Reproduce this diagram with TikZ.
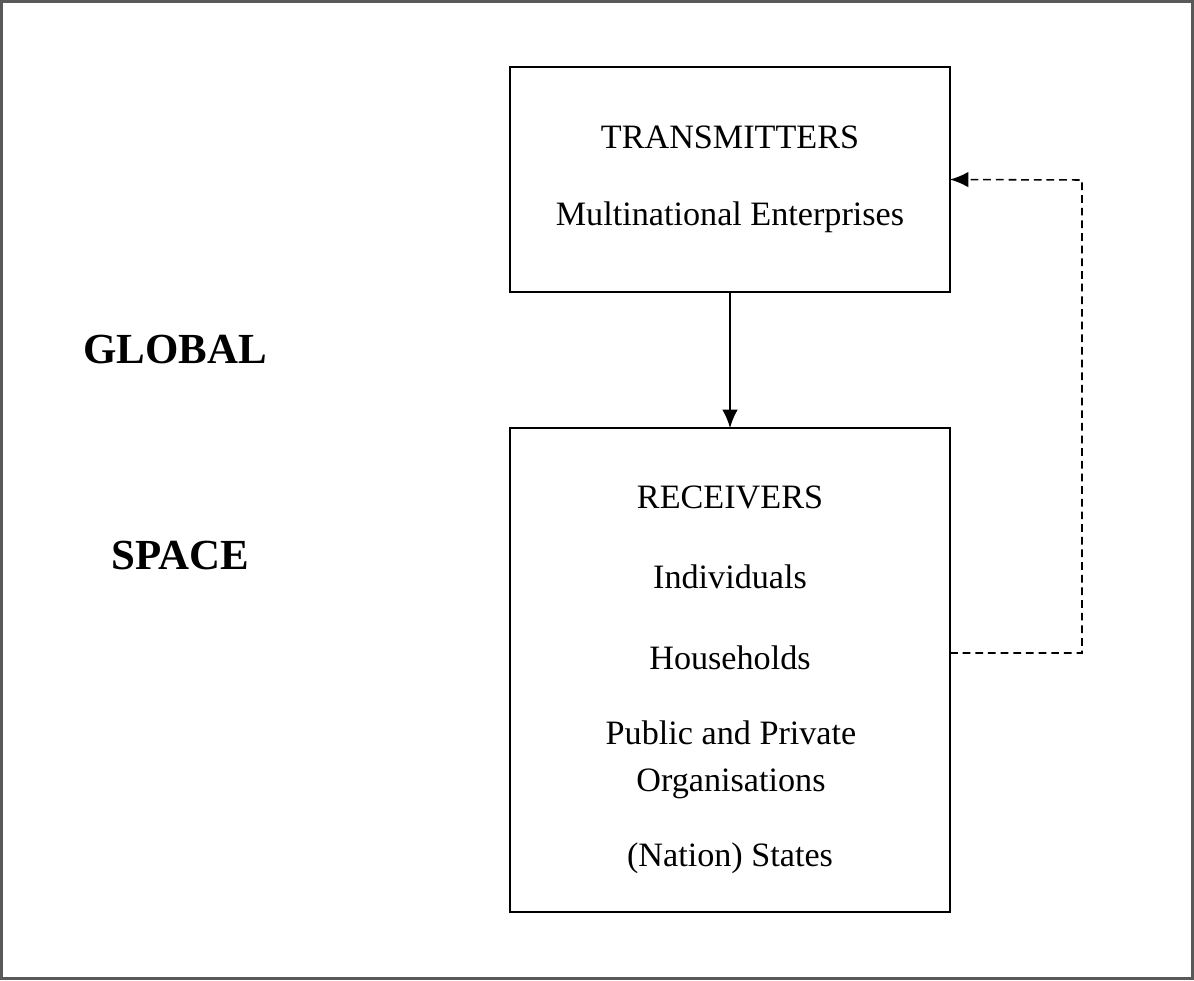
\documentclass[tikz,border=0pt]{standalone}
\usepackage{fontspec}
\setmainfont{Liberation Serif}
\usetikzlibrary{arrows.meta}

\begin{document}
\begin{tikzpicture}[x=0.025cm,y=-0.025cm,line width=1.2pt,
	txt/.style={inner sep=0pt,font=\fontsize{24.3}{29}\selectfont},
	big/.style={inner sep=0pt,font=\fontsize{30.5}{36}\selectfont\bfseries},
	box/.style={draw,inner sep=0pt,minimum width=440*0.025cm,outer sep=0pt}]
	\useasboundingbox (0,0) rectangle (1194,980);
	\draw[line width=2.2pt,black!65] (1.5,1.5) rectangle (1192.5,978.5);
	\node[box,minimum height=225*0.025cm] (trans) at (730,179.5) {};
	\node[box,minimum height=484*0.025cm] (recv) at (730,670) {};
	\node[txt] (t1) at (730,137) {TRANSMITTERS};
	\node[txt] (t2) at (730,217) {Multinational Enterprises};
	\node[txt] (r1) at (730,497) {RECEIVERS};
	\node[txt] (r2) at (730,577) {Individuals};
	\node[txt] (r3) at (730,658) {Households};
	\node[txt,align=center] (r4) at (731,760) {Public and Private\\[4pt]Organisations};
	\node[txt] (r5) at (730,858) {(Nation) States};
	\node[big] (glob) at (175,350) {GLOBAL};
	\node[big] (space) at (180,555) {SPACE};
	\coordinate (out) at (950,653) ;
	\coordinate (turn) at (1082,180) ;
	\begin{scope}[>={Latex[length=13pt,width=11pt]}]
	\draw[->] (trans)--(recv);
	\draw[->,dash pattern=on 5.5pt off 3.5pt,line width=1.1pt] (out) -| (turn) -- (trans.east);
	\end{scope}
\end{tikzpicture}
\end{document}
